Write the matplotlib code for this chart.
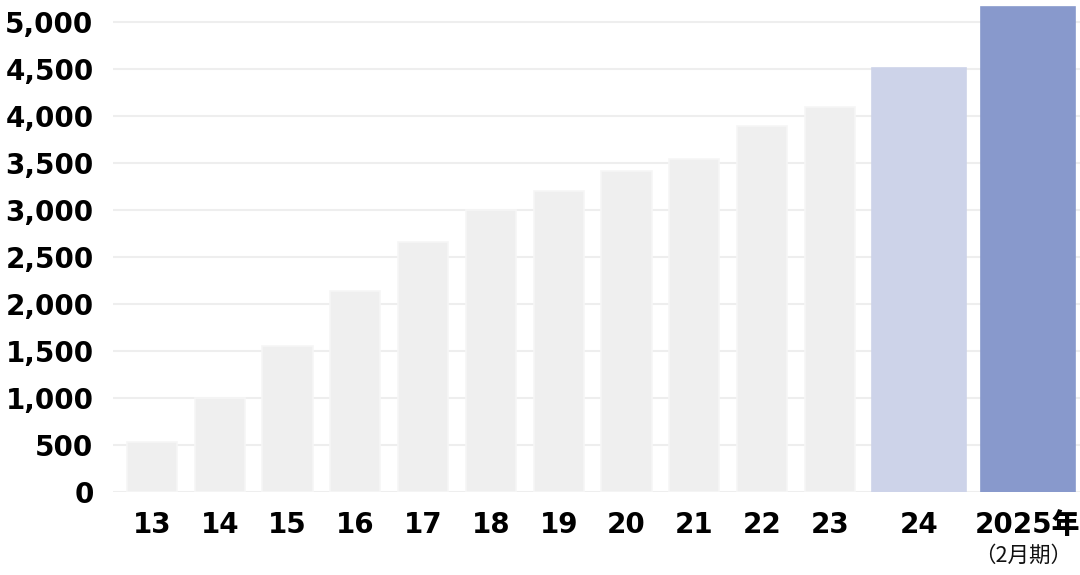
import matplotlib
matplotlib.use("Agg")
import matplotlib.pyplot as plt
from matplotlib.transforms import blended_transform_factory

categories = ["13", "14", "15", "16", "17", "18", "19", "20", "21", "22", "23", "24", "2025年"]
values = [530, 1000, 1550, 2140, 2660, 3000, 3200, 3420, 3540, 3890, 4100, 4510, 5160]
y_ticks = [0, 500, 1000, 1500, 2000, 2500, 3000, 3500, 4000, 4500, 5000]
sub_label = "（2月期）"

# layout
positions = list(range(11)) + [11.31, 12.92]
widths = [0.74] * 11 + [1.39, 1.39]
colors = ["#efefef"] * 11 + ["#cdd3e9", "#8899cc"]
edges = ["#f6f6f6"] * 11 + ["#cdd3e9", "#8899cc"]

plt.rcParams['font.family'] = ['DejaVu Sans', 'Noto Sans CJK JP']

fig = plt.figure(figsize=(10.8, 5.75), dpi=100)
ax = fig.add_axes([113 / 1080, 1 - 492 / 575, 1 - 113 / 1080, 492 / 575])

ax.bar(positions, values, width=widths, color=colors, edgecolor=edges, linewidth=1.2, zorder=3)

ax.set_xlim(-0.575, 13.69)
ax.set_ylim(0, 5234)
ax.set_yticks(y_ticks)
ax.set_yticklabels([f"{v:,}" for v in y_ticks])
ax.yaxis.grid(True, color="#eeeeee", linewidth=1.5, zorder=0)
ax.set_axisbelow(True)
ax.set_xticks(positions)
ax.set_xticklabels(categories)

for s in ax.spines.values():
    s.set_visible(False)
ax.tick_params(axis="both", length=0)
ax.tick_params(axis="y", pad=14, labelsize=20)
ax.tick_params(axis="x", pad=14, labelsize=20)
for lab in ax.get_yticklabels() + ax.get_xticklabels():
    lab.set_fontweight("heavy")
    lab.set_color("#000000")

trans = blended_transform_factory(ax.transData, fig.transFigure)
ax.text(positions[-1] - 0.07, 1 - 556 / 575, sub_label, transform=trans, ha="center", va="center",
        fontsize=15.5, color="#111111", family=['Noto Sans CJK JP', 'DejaVu Sans'])

fig.savefig("out.png", dpi=100)
